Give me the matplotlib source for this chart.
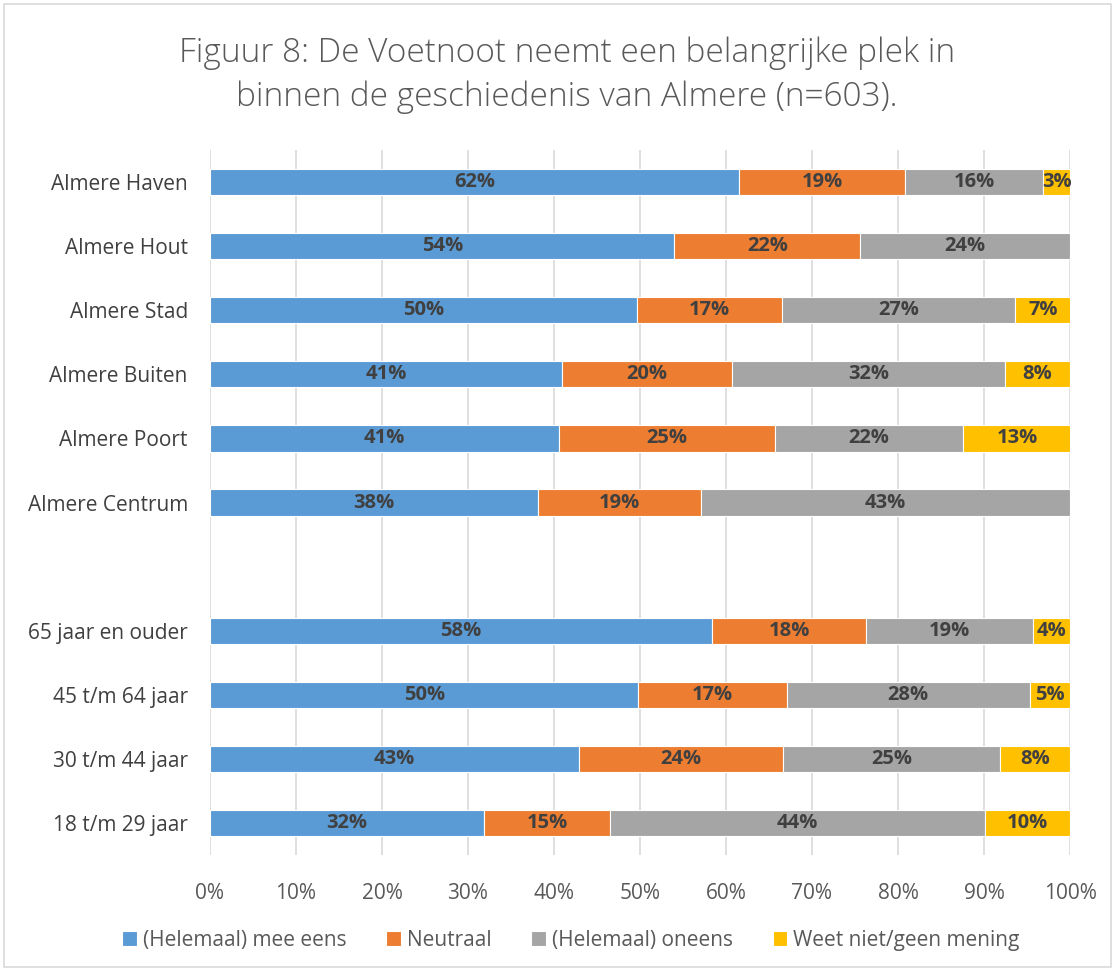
import numpy as np
import matplotlib.pyplot as plt

plt.rcParams['font.family'] = ['Open Sans', 'DejaVu Sans']

# categories, top to bottom ('' is the empty gap between the two groups)
categories = ['Almere Haven', 'Almere Hout', 'Almere Stad', 'Almere Buiten',
              'Almere Poort', 'Almere Centrum', '',
              '65 jaar en ouder', '45 t/m 64 jaar', '30 t/m 44 jaar', '18 t/m 29 jaar']

mee_eens = [61.5, 54.0, 49.7, 40.9, 40.6, 38.1, 0, 58.4, 49.8, 42.9, 31.9]
neutraal = [19.3, 21.6, 16.8, 19.8, 25.1, 19.0, 0, 17.9, 17.3, 23.7, 14.6]
oneens = [16.1, 24.4, 27.1, 31.7, 21.9, 42.9, 0, 19.4, 28.2, 25.3, 43.6]
weet_niet = [3.1, 0, 6.6, 7.6, 12.6, 0, 0, 4.3, 4.7, 8.1, 9.9]

series_names = ['(Helemaal) mee eens', 'Neutraal', '(Helemaal) oneens', 'Weet niet/geen mening']
colors = ['#5B9BD5', '#ED7D31', '#A5A5A5', '#FFC000']

series = [mee_eens, neutraal, oneens, weet_niet]

fig = plt.figure(figsize=(11.15, 9.71), dpi=100)
ax = fig.add_axes([210 / 1115, 1 - 855 / 971, 860 / 1115, 705 / 971])

y = np.arange(len(categories))[::-1]
left = np.zeros(len(categories))
for name, vals, col in zip(series_names, series, colors):
    vals = np.array(vals)
    keep = vals > 0
    bars = ax.barh(y[keep], vals[keep], left=left[keep], height=0.41, color=col,
                   label=name, edgecolor='white', linewidth=0.8, zorder=2)
    for b, v in zip(bars, vals[keep]):
        ax.text(b.get_x() + b.get_width() / 2, b.get_y() + b.get_height() / 2,
                f'{v:.0f}%', ha='center', va='center', fontsize=14.5,
                fontweight='bold', color='#404040', zorder=3)
    left += vals

ax.set_xlim(0, 100)
ax.set_ylim(-0.5, len(categories) - 0.5)
ax.set_yticks(y)
ax.set_yticklabels(categories, fontsize=15, color='#404040')
ax.set_xticks(np.arange(0, 101, 10))
ax.set_xticklabels([f'{t}%' for t in range(0, 101, 10)], fontsize=15, color='#595959')
ax.tick_params(length=0)
ax.tick_params(axis='y', pad=16)
ax.tick_params(axis='x', pad=20)
ax.grid(axis='x', color='#D9D9D9', linewidth=1.2, zorder=0)
for s in ax.spines.values():
    s.set_visible(False)

fig.text(567 / 1115, 1 - 75 / 971,
         'Figuur 8: De Voetnoot neemt een belangrijke plek in\nbinnen de geschiedenis van Almere (n=603).',
         ha='center', va='center', fontsize=24, color='#595959', linespacing=1.4,
         fontweight='light')

fig.legend(loc='center', bbox_to_anchor=(571 / 1115, 1 - 940 / 971), ncol=4,
           frameon=False, fontsize=15, handlelength=0.7, handleheight=0.7,
           handletextpad=0.3, columnspacing=1.9, labelcolor='#595959')

border = plt.Rectangle((0.004, 0.004), 0.992, 0.992, transform=fig.transFigure,
                       fill=False, edgecolor='#D9D9D9', linewidth=1.2)
fig.patches.append(border)

fig.savefig('out.png', dpi=100, facecolor='white')
